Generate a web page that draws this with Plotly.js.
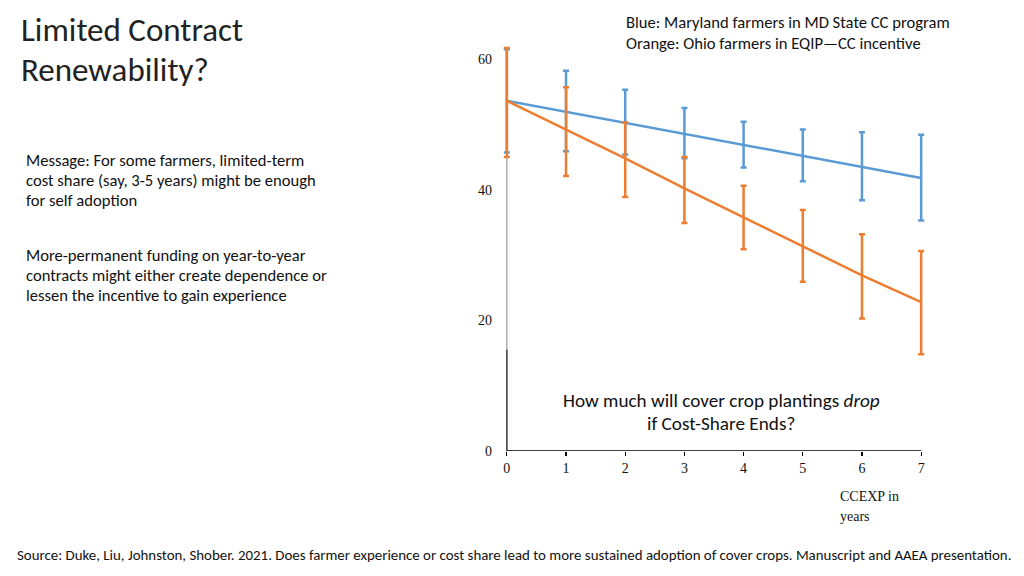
<!DOCTYPE html>
<html>
<head>
<meta charset="utf-8">
<script src="https://cdn.plot.ly/plotly-3.0.1.min.js"></script>
<style>html,body{margin:0;padding:0;background:#fff;}#chart{width:1024px;height:576px;}</style>
</head>
<body>
<div id="chart"></div>
<script>
// Data
const years = [0, 1, 2, 3, 4, 5, 6, 7];
const tickLabels = ["0", "1", "2", "3", "4", "5", "6", "7"];
const mdMean = [53.6, 51.9, 50.3, 48.5, 46.8, 45.1, 43.5, 41.8];
const mdErrPlus = [7.9, 6.3, 5.0, 4.0, 3.6, 4.1, 5.3, 6.6];
const mdErrMinus = [7.9, 6.0, 4.9, 3.7, 3.4, 3.8, 5.1, 6.5];
const ohMean = [53.6, 49.2, 44.8, 40.2, 35.8, 31.4, 26.9, 22.8];
const ohErrPlus = [8.1, 6.5, 5.5, 4.8, 4.8, 5.5, 6.3, 7.8];
const ohErrMinus = [8.6, 7.1, 5.9, 5.3, 4.9, 5.5, 6.6, 8.0];
const yTicks = [0, 20, 40, 60];

const BLUE = "#5B9BD5", ORANGE = "#ED7D31";
const SANS = "Carlito, Lato, 'Open Sans', sans-serif";
const SERIF = "'Liberation Serif', 'Times New Roman', serif";

// plot area: x=0 at 507px, x=7 at 921px, padded by 0.2 units on each side
const UX = (921 - 507) / 7;
const PADX = 0.2;
const L = 507 - PADX * UX, R = 921 + PADX * UX, T = 46, B = 451;
const X = px => (px - L) / (R - L);
const Y = py => (B - py) / (B - T);

const traces = [
  {x: years, y: mdMean, type: "scatter", mode: "lines", line: {color: BLUE, width: 2.5},
   error_y: {type: "data", symmetric: false, array: mdErrPlus, arrayminus: mdErrMinus, color: BLUE, thickness: 2.5, width: 3},
   cliponaxis: false, hoverinfo: "skip", name: "Maryland"},
  {x: years, y: ohMean, type: "scatter", mode: "lines", line: {color: ORANGE, width: 2.5},
   error_y: {type: "data", symmetric: false, array: ohErrPlus, arrayminus: ohErrMinus, color: ORANGE, thickness: 2.5, width: 3},
   cliponaxis: false, hoverinfo: "skip", name: "Ohio"}
];

const line = (text, px, py, size, opts) => Object.assign({
  text: text, xref: "paper", yref: "paper", x: X(px), y: Y(py), showarrow: false,
  xanchor: "left", yanchor: "middle", align: "left", font: {family: SANS, size: size, color: "#111"}
}, opts || {});

const titleFont = {family: SANS, size: 33, color: "#222"};
const serifFont = {family: SERIF, size: 14, color: "#111"};
const MS = 16.6;
const tight = {height: 18, valign: "middle"};

const layout = {
  width: 1024, height: 576,
  margin: {l: L, r: 1024 - R, t: T, b: 576 - B, pad: 0},
  paper_bgcolor: "#fff", plot_bgcolor: "#fff",
  showlegend: false,
  xaxis: {range: [-PADX, 7 + PADX], tickvals: years, ticktext: tickLabels, showgrid: false, zeroline: false,
    showline: false, ticks: "outside", ticklen: 4, tickcolor: "#000", tickwidth: 1.2,
    tickfont: {family: SERIF, size: 14, color: "#111"}, fixedrange: true},
  yaxis: {range: [0, 62], tickvals: yTicks, ticktext: yTicks.map(String), showgrid: false, zeroline: false,
    showline: false, ticks: "", tickfont: {family: SERIF, size: 14, color: "#111"}, ticklabelstandoff: 2, fixedrange: true},
  shapes: [
    {type: "line", xref: "x", yref: "y", x0: 0, x1: 0, y0: 0, y1: 60, line: {color: "#999", width: 1.2}, layer: "below"},
    {type: "line", xref: "x", yref: "y", x0: 0, x1: 0, y0: 0, y1: 15.5, line: {color: "#444", width: 1.5}, layer: "below"},
    {type: "line", xref: "x", yref: "y", x0: 0, x1: 7, y0: 0, y1: 0, line: {color: "#000", width: 1.4}, layer: "below"}
  ],
  annotations: [
    line("Limited Contract", 20, 30, 33, {font: titleFont}),
    line("Renewability?", 20, 70, 33, {font: titleFont}),
    line("Message: For some farmers, limited-term", 25, 160, MS, tight),
    line("cost share (say, 3-5 years) might be enough", 25, 180, MS, tight),
    line("for self adoption", 25, 200, MS, tight),
    line("More-permanent funding on year-to-year", 25, 255, MS, tight),
    line("contracts might either create dependence or", 25, 275, MS, tight),
    line("lessen the incentive to gain experience", 25, 295, MS, tight),
    line("Blue: Maryland farmers in MD State CC program", 624, 22, MS, tight),
    line("Orange: Ohio farmers in EQIP\u2014CC incentive", 624, 43, MS, tight),
    line("How much will cover crop plantings <i>drop</i>", 721, 400, 19.2, {xanchor: "center"}),
    line("if Cost-Share Ends?", 721, 423, 19.2, {xanchor: "center", height: 20, valign: "middle"}),
    line("CCEXP in", 838, 496, 14, {font: serifFont}),
    line("years", 838, 516, 14, {font: serifFont}),
    line("Source: Duke, Liu, Johnston, Shober. 2021. Does farmer experience or cost share lead to more sustained adoption of cover crops. Manuscript and AAEA presentation.", 16, 555, 14.9)
  ]
};

Plotly.newPlot("chart", traces, layout, {staticPlot: true, displayModeBar: false});
</script>
</body>
</html>
